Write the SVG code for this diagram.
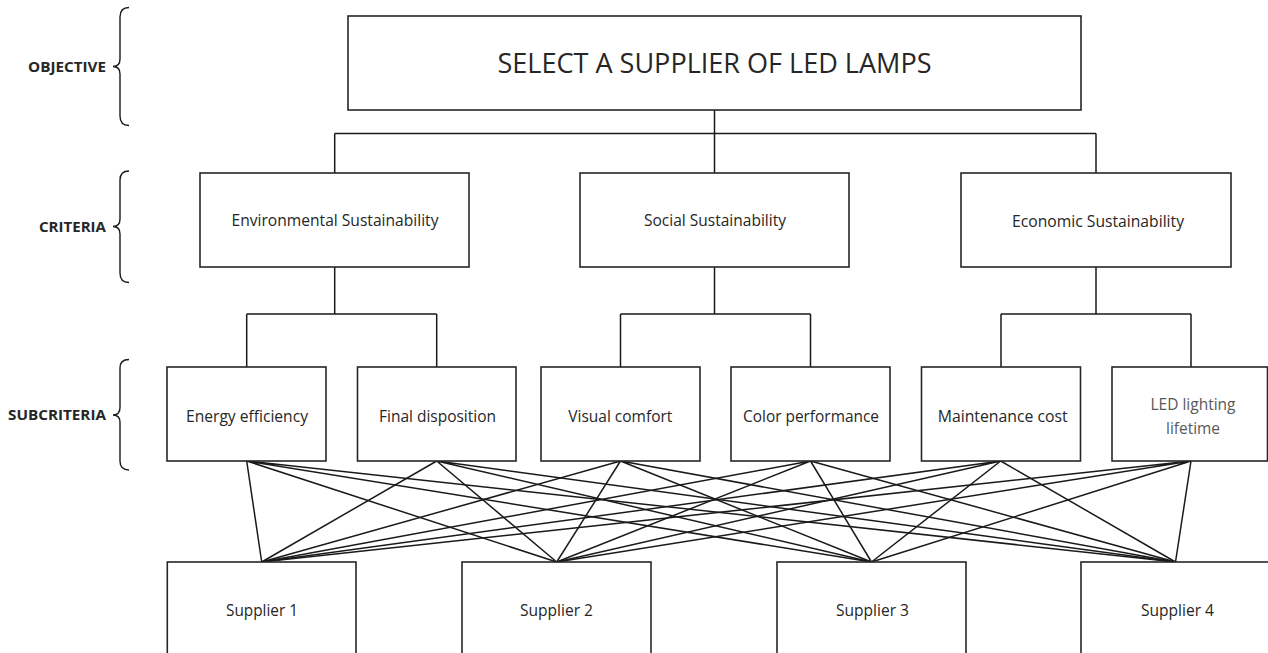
<svg xmlns="http://www.w3.org/2000/svg" width="1268" height="653" viewBox="0 0 1268 653">
<style>
  .box { fill: #ffffff; stroke: #262626; stroke-width: 1.6; }
  .conn { fill: none; stroke: #1a1a1a; stroke-width: 1.5; }
  .brace { fill: none; stroke: #1a1a1a; stroke-width: 1.4; }
  .t { font-family: "Open Sans", "Noto Sans", "Liberation Sans", sans-serif; fill: #262626; text-anchor: middle; }
  .lbl { font-family: "Open Sans", "Noto Sans", "Liberation Sans", sans-serif; font-weight: bold; fill: #262626; text-anchor: end; font-size: 14.5px; }
</style>
<rect width="1268" height="653" fill="#ffffff"/>

<g id="level-labels">
  <text class="lbl" x="106" y="71.5" textLength="78" lengthAdjust="spacingAndGlyphs">OBJECTIVE</text>
  <path class="brace" d="M129,7.5 Q120,7.5 120,17 L120,59 Q120,66.5 113,66.5 Q120,66.5 120,74 L120,116 Q120,125.5 129,125.5"/>
  <text class="lbl" x="106" y="232" textLength="67" lengthAdjust="spacingAndGlyphs">CRITERIA</text>
  <path class="brace" d="M129,171 Q120,171 120,180 L120,219 Q120,226.5 113,226.5 Q120,226.5 120,234 L120,273 Q120,282.5 129,282.5"/>
  <text class="lbl" x="106" y="420" textLength="98" lengthAdjust="spacingAndGlyphs">SUBCRITERIA</text>
  <path class="brace" d="M129,359.5 Q120,359.5 120,368 L120,407.5 Q120,415 113,415 Q120,415 120,422.5 L120,461 Q120,470 129,470"/>
</g>

<g id="connectors">
  <path class="conn" d="M714.5,110 V133.5 M334.7,133.5 H1096 M334.7,133.5 V173 M714.5,133.5 V173 M1096,133.5 V173"/>
  <path class="conn" d="M334.7,267 V314 M246.7,314 H436.7 M246.7,314 V367 M436.7,314 V367"/>
  <path class="conn" d="M714.5,267 V314 M620.5,314 H810.5 M620.5,314 V367 M810.5,314 V367"/>
  <path class="conn" d="M1096,267 V314 M1001,314 H1191 M1001,314 V367 M1191,314 V367"/>
  <g id="sub-to-supplier">
    <path class="conn" d="M246.7,461 L261.7,562 M246.7,461 L556.7,562 M246.7,461 L871.5,562 M246.7,461 L1175.5,562"/>
    <path class="conn" d="M436.7,461 L261.7,562 M436.7,461 L556.7,562 M436.7,461 L871.5,562 M436.7,461 L1175.5,562"/>
    <path class="conn" d="M620.5,461 L261.7,562 M620.5,461 L556.7,562 M620.5,461 L871.5,562 M620.5,461 L1175.5,562"/>
    <path class="conn" d="M810.5,461 L261.7,562 M810.5,461 L556.7,562 M810.5,461 L871.5,562 M810.5,461 L1175.5,562"/>
    <path class="conn" d="M1000.7,461 L261.7,562 M1000.7,461 L556.7,562 M1000.7,461 L871.5,562 M1000.7,461 L1175.5,562"/>
    <path class="conn" d="M1191,461 L261.7,562 M1191,461 L556.7,562 M1191,461 L871.5,562 M1191,461 L1175.5,562"/>
  </g>
</g>

<g id="objective">
  <rect class="box" x="348" y="16" width="733" height="94"/>
  <text class="t" x="714.5" y="72.5" font-size="27" textLength="434" lengthAdjust="spacingAndGlyphs">SELECT A SUPPLIER OF LED LAMPS</text>
</g>

<g id="crit-env">
  <rect class="box" x="200" y="173" width="269" height="94"/>
  <text class="t" x="335" y="226" font-size="15.5" textLength="207" lengthAdjust="spacingAndGlyphs">Environmental Sustainability</text>
</g>
<g id="crit-soc">
  <rect class="box" x="580" y="173" width="269" height="94"/>
  <text class="t" x="715" y="226" font-size="15.5" textLength="142" lengthAdjust="spacingAndGlyphs">Social Sustainability</text>
</g>
<g id="crit-eco">
  <rect class="box" x="961" y="173" width="270" height="94"/>
  <text class="t" x="1098" y="226.5" font-size="15.5" textLength="172" lengthAdjust="spacingAndGlyphs">Economic Sustainability</text>
</g>

<g id="sub-energy">
  <rect class="box" x="167" y="367" width="159" height="94"/>
  <text class="t" x="247" y="421.5" font-size="16.5" textLength="122" lengthAdjust="spacingAndGlyphs">Energy efficiency</text>
</g>
<g id="sub-final">
  <rect class="box" x="357.5" y="367" width="158.5" height="94"/>
  <text class="t" x="437.5" y="421.5" font-size="16.5" textLength="117" lengthAdjust="spacingAndGlyphs">Final disposition</text>
</g>
<g id="sub-visual">
  <rect class="box" x="541" y="367" width="159" height="94"/>
  <text class="t" x="620.3" y="421.5" font-size="16.5" textLength="104" lengthAdjust="spacingAndGlyphs">Visual comfort</text>
</g>
<g id="sub-color">
  <rect class="box" x="731" y="367" width="159" height="94"/>
  <text class="t" x="811" y="421.5" font-size="16.5" textLength="136" lengthAdjust="spacingAndGlyphs">Color performance</text>
</g>
<g id="sub-maint">
  <rect class="box" x="921.5" y="367" width="159" height="94"/>
  <text class="t" x="1002.7" y="421.5" font-size="16.5" textLength="130" lengthAdjust="spacingAndGlyphs">Maintenance cost</text>
</g>
<g id="sub-led">
  <rect class="box" x="1112" y="367" width="155.5" height="94"/>
  <text class="t" x="1193" y="409.5" font-size="16.5" style="fill:#595959" textLength="85" lengthAdjust="spacingAndGlyphs">LED lighting</text>
  <text class="t" x="1193" y="433.5" font-size="16.5" style="fill:#595959" textLength="54" lengthAdjust="spacingAndGlyphs">lifetime</text>
</g>

<g id="supplier-1">
  <rect class="box" x="167.3" y="562" width="188.7" height="100"/>
  <text class="t" x="262" y="616" font-size="16.5" textLength="72" lengthAdjust="spacingAndGlyphs">Supplier 1</text>
</g>
<g id="supplier-2">
  <rect class="box" x="462" y="562" width="189" height="100"/>
  <text class="t" x="556.5" y="616" font-size="16.5" textLength="73" lengthAdjust="spacingAndGlyphs">Supplier 2</text>
</g>
<g id="supplier-3">
  <rect class="box" x="777" y="562" width="189" height="100"/>
  <text class="t" x="872.5" y="616" font-size="16.5" textLength="73" lengthAdjust="spacingAndGlyphs">Supplier 3</text>
</g>
<g id="supplier-4">
  <rect class="box" x="1081" y="562" width="189" height="100"/>
  <text class="t" x="1177.5" y="616" font-size="16.5" textLength="73" lengthAdjust="spacingAndGlyphs">Supplier 4</text>
</g>
</svg>
